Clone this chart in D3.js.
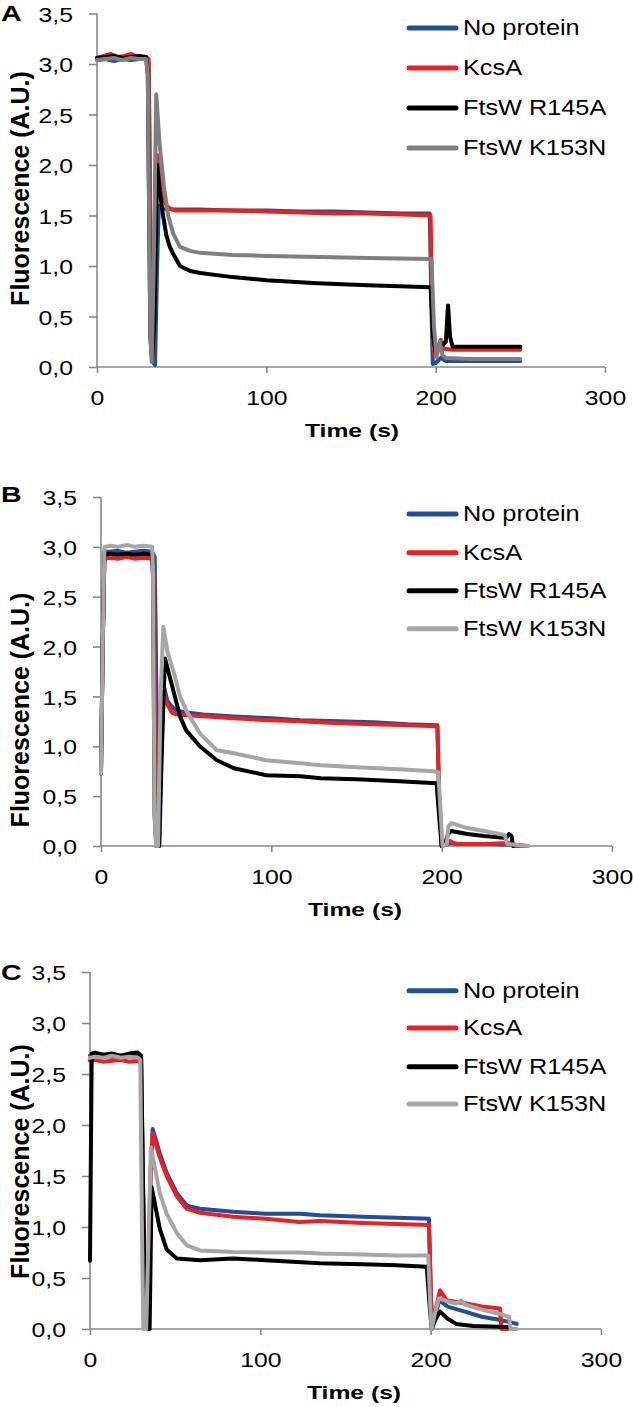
<!DOCTYPE html>
<html>
<head>
<meta charset="utf-8">
<script src="https://cdn.jsdelivr.net/npm/d3@7"></script>
<style>
  html, body { margin: 0; padding: 0; background: #fff; }
  svg { display: block; }
  text { font-family: "Liberation Sans", Arial, sans-serif; fill: #000; }
</style>
</head>
<body>
<svg id="chart" width="633" height="1407"></svg>
<script>
// ---------------- DATA ----------------
const seriesNames = ["No protein", "KcsA", "FtsW R145A", "FtsW K153N"];
const panelLetters = ["A", "B", "C"];
const xTicks = [0, 100, 200, 300];
const xTickLabels = ["0", "100", "200", "300"];
const yTicks = [0, 0.5, 1.0, 1.5, 2.0, 2.5, 3.0, 3.5];
const yTickLabels = ["0,0", "0,5", "1,0", "1,5", "2,0", "2,5", "3,0", "3,5"];
const xTitle = "Time (s)";
const yTitle = "Fluorescence (A.U.)";

// Panel A  [time (s), fluorescence]
const aNoProtein = [[0,3.04],[5,3.05],[10,3.03],[15,3.05],[20,3.04],[25,3.05],[29,3.05],[30.5,3.0],[32,0.5],[33,0.05],[34.3,0.02],[35.5,1.0],[36.5,1.6],[38,1.57],[45,1.56],[60,1.56],[80,1.55],[100,1.55],[120,1.54],[140,1.54],[160,1.53],[180,1.52],[196.5,1.52],[197.5,0.6],[198.3,0.03],[200,0.04],[203,0.09],[206,0.06],[215,0.06],[230,0.06],[250,0.06]];
const aKcsA = [[0,3.06],[4,3.08],[8,3.1],[12,3.07],[16,3.08],[20,3.1],[24,3.07],[29,3.07],[30.5,3.05],[32,0.3],[33,0.1],[34.5,1.2],[35.5,2.1],[37,1.85],[39,1.68],[41,1.6],[43,1.57],[46,1.55],[60,1.55],[80,1.55],[100,1.54],[120,1.53],[140,1.52],[160,1.52],[180,1.51],[197,1.50],[198,0.5],[199,0.12],[201,0.15],[203,0.27],[205,0.18],[210,0.17],[230,0.17],[250,0.17]];
const aR145A = [[0,3.06],[5,3.07],[10,3.08],[15,3.06],[20,3.07],[25,3.08],[29,3.07],[30,2.9],[31.5,0.3],[32.5,0.08],[34,0.5],[35.5,2.0],[37,1.75],[39,1.5],[41,1.3],[43,1.19],[45,1.12],[49,1.0],[55,0.95],[61,0.93],[80,0.89],[100,0.86],[130,0.83],[160,0.81],[197,0.79],[198.5,0.3],[200,0.15],[203,0.2],[206,0.25],[207.3,0.61],[208.5,0.3],[210,0.2],[230,0.2],[250,0.2]];
const aK153N = [[0,3.04],[5,3.05],[10,3.06],[15,3.04],[20,3.06],[25,3.05],[29,3.05],[30,2.9],[31.5,0.3],[32.3,0.05],[33.5,1.0],[35,2.7],[37,2.2],[39.5,1.79],[42,1.5],[45,1.32],[49,1.19],[55,1.15],[61,1.13],[80,1.11],[100,1.10],[132,1.09],[160,1.08],[197.5,1.07],[199,0.4],[200.5,0.1],[202.5,0.25],[204,0.12],[206,0.09],[220,0.08],[250,0.08]];

// Panel B
const bNoProtein = [[0,0.75],[1,2.0],[2,2.95],[5,2.95],[10,2.96],[15,2.94],[20,2.95],[25,2.96],[30,2.95],[31.5,2.9],[33,1.0],[34.3,0.0],[35.5,0.8],[37,1.6],[39,1.45],[41.5,1.4],[44,1.36],[50,1.34],[60,1.32],[78,1.30],[100,1.28],[117,1.26],[140,1.25],[160,1.24],[180,1.22],[197.5,1.21],[198.5,0.5],[200,0.0],[205,0.03],[210,0.02],[230,0.02],[245,0.01],[250,0.0]];
const bKcsA = [[0,0.75],[1,2.0],[2,2.88],[5,2.89],[10,2.88],[15,2.9],[20,2.88],[25,2.89],[30,2.88],[31,2.7],[32.5,0.0],[34,0.5],[36,1.6],[38,1.45],[41.5,1.34],[44,1.32],[50,1.31],[60,1.3],[78,1.28],[100,1.26],[117,1.25],[140,1.23],[160,1.22],[180,1.21],[197.5,1.2],[198.5,0.5],[200,0.0],[203,0.02],[205,0.05],[208,0.02],[225,0.02],[240,0.03],[242,0.0],[250,0.0]];
const bR145A = [[0,0.73],[1,2.0],[2,2.92],[5,2.93],[10,2.92],[15,2.93],[20,2.92],[25,2.93],[30,2.92],[30.5,2.7],[31.5,0.3],[32.5,0.0],[34,0.0],[36,1.2],[37.6,1.88],[40,1.72],[42.9,1.53],[46.4,1.30],[50,1.16],[58,1.0],[68,0.86],[78,0.78],[97,0.71],[117,0.70],[129,0.68],[150,0.67],[175,0.65],[197,0.63],[198.5,0.3],[200,0.0],[202,0.02],[203.7,0.12],[205.7,0.15],[215,0.12],[225,0.1],[238,0.08],[239.5,0.12],[241,0.1],[242,0.0]];
const bK153N = [[0,0.73],[1,2.0],[2,3.0],[5,3.01],[10,3.0],[15,3.02],[20,3.0],[25,3.01],[30,3.0],[30.5,2.8],[31.5,0.3],[32.3,0.0],[33.5,0.0],[35,1.5],[36.6,2.2],[39,1.95],[42.9,1.73],[46.4,1.50],[50,1.36],[58,1.13],[68,0.96],[78,0.93],[97,0.86],[117,0.83],[129,0.81],[150,0.79],[175,0.77],[195,0.75],[198,0.74],[199.5,0.3],[200.5,0.0],[203,0.02],[204,0.2],[205.7,0.23],[215,0.18],[225,0.15],[237,0.11],[238.5,0.02],[245,0.01],[251,0.0]];

// Panel C
const cNoProtein = [[0,2.68],[3,2.69],[8,2.68],[13,2.67],[18,2.68],[23,2.67],[28,2.68],[30,2.65],[31.5,1.0],[32.5,0.0],[34,0.0],[35.5,1.5],[36.8,1.96],[41,1.72],[45,1.53],[51,1.33],[56.8,1.21],[64.6,1.18],[84,1.15],[103,1.13],[123,1.13],[135,1.115],[160,1.1],[180,1.09],[199,1.08],[200.2,0.3],[201,0.02],[203,0.15],[205,0.28],[210,0.22],[220,0.17],[230,0.12],[240,0.09],[246,0.07],[250.5,0.05]];
const cKcsA = [[0,2.63],[3,2.64],[8,2.62],[13,2.63],[18,2.64],[23,2.62],[28,2.63],[30,2.6],[31.5,1.0],[32.5,0.0],[34,0.0],[35.5,1.5],[36.8,1.92],[41,1.68],[45,1.5],[51,1.30],[56.8,1.18],[64.6,1.14],[84,1.10],[103,1.08],[123,1.05],[135,1.06],[160,1.04],[180,1.03],[199,1.02],[200.2,0.3],[201,0.02],[203,0.2],[205.5,0.38],[209.4,0.28],[221,0.25],[230,0.22],[240.7,0.2],[241.6,0.0],[245.5,0.0]];
const cR145A = [[0,0.67],[1,2.7],[3,2.71],[8,2.69],[13,2.70],[18,2.68],[23,2.70],[28,2.71],[30,2.68],[31.5,1.0],[32.5,0.0],[35,0.0],[36.2,1.39],[41,0.98],[45,0.78],[51,0.69],[64.6,0.675],[84,0.69],[103,0.675],[135,0.645],[160,0.635],[180,0.625],[197.7,0.61],[199.5,0.2],[200.6,0.0],[203,0.1],[205.5,0.17],[210,0.1],[215,0.05],[225,0.03],[245,0.02]];
const cK153N = [[0,2.66],[3,2.67],[8,2.66],[13,2.68],[18,2.66],[23,2.67],[28,2.66],[29.5,2.64],[30.5,1.0],[31.3,0.0],[33,0.0],[34.5,1.0],[35.8,1.78],[41,1.33],[45,1.13],[51,0.94],[56.8,0.82],[64.6,0.77],[84,0.756],[103,0.75],[123,0.75],[135,0.74],[160,0.73],[180,0.72],[198.6,0.72],[199.8,0.2],[200.6,0.0],[202.5,0.15],[204.8,0.30],[210,0.27],[215,0.25],[218,0.28],[220,0.24],[230,0.19],[240,0.15],[246,0.12],[247,0.0],[250.5,0.0]];

// ---------------- LAYOUT / STYLE ----------------
const panelSeries = [
  [aNoProtein, aKcsA, aR145A, aK153N],
  [bNoProtein, bKcsA, bR145A, bK153N],
  [cNoProtein, cKcsA, cR145A, cK153N]
];
const panels = [
  { x0: 97,  x1: 605, yB: 367,  yT: 13.5, letterY: 21,  yTitleY: 188.5,  xTitleX: 352, legendY: [28, 68, 108, 148], gray: "#7f7f7f" },
  { x0: 101, x1: 612, yB: 846,  yT: 497,  letterY: 502, yTitleY: 710,    xTitleX: 355, legendY: [514, 552.7, 590.7, 628.7], gray: "#a6a6a6" },
  { x0: 90,  x1: 601, yB: 1329, yT: 972,  letterY: 980, yTitleY: 1161.5, xTitleX: 354, legendY: [990.7, 1028, 1066.7, 1104], gray: "#a6a6a6" }
];
const baseColors = ["#1f4e9c", "#f21d1d", "#000000"];
const axisColor = "#898989";

const svg = d3.select("#chart");

panels.forEach((p, pi) => {
  const colors = baseColors.concat([p.gray]);
  const x = d3.scaleLinear().domain([0, 300]).range([p.x0, p.x1]);
  const y = d3.scaleLinear().domain([0, 3.5]).range([p.yB, p.yT]);
  const g = svg.append("g");

  // axes
  const yAxis = d3.axisLeft(y).tickValues(yTicks).tickSize(8)
    .tickFormat((d, i) => yTickLabels[i]);
  const gy = g.append("g").attr("transform", `translate(${p.x0},0)`).call(yAxis);
  gy.select(".domain").attr("stroke", axisColor).attr("stroke-width", 1.6);
  gy.selectAll(".tick line").attr("stroke", axisColor).attr("stroke-width", 1.6);
  gy.selectAll(".tick text")
    .attr("x", null).attr("dy", "0.36em")
    .attr("transform", "translate(-24,0) scale(1.18,1)")
    .style("font-size", "21px").attr("text-anchor", "end");

  const xAxis = d3.axisBottom(x).tickValues(xTicks).tickSize(6)
    .tickFormat((d, i) => xTickLabels[i]);
  const gx = g.append("g").attr("transform", `translate(0,${p.yB})`).call(xAxis);
  gx.select(".domain").attr("stroke", axisColor).attr("stroke-width", 1.6);
  gx.selectAll(".tick line").attr("stroke", axisColor).attr("stroke-width", 1.6);
  gx.selectAll(".tick text")
    .attr("y", 38).attr("dy", null)
    .attr("transform", "scale(1.18,1)")
    .style("font-size", "21px");
  g.selectAll(".domain").attr("fill", "none");
  gy.select(".domain").attr("d", `M0,${p.yB}V${p.yT}`);
  gx.select(".domain").attr("d", `M${p.x0},0H${p.x1}`);

  // lines
  const line = d3.line().x(d => x(d[0])).y(d => y(d[1]));
  panelSeries[pi].forEach((s, si) => {
    g.append("path").datum(s)
      .attr("d", line)
      .attr("fill", "none")
      .attr("stroke", colors[si])
      .attr("stroke-width", 4)
      .attr("stroke-linejoin", "round")
      .attr("stroke-linecap", "round");
  });

  // panel letter
  g.append("text").attr("transform", `translate(1,${p.letterY}) scale(1.3,1)`)
    .style("font-size", "22px").style("font-weight", "bold").text(panelLetters[pi]);

  // y title
  g.append("text")
    .attr("transform", `translate(20,${p.yTitleY}) rotate(-90)`)
    .attr("text-anchor", "middle").attr("dominant-baseline", "central")
    .style("font-size", "25px").style("font-weight", "bold").text(yTitle);

  // x title
  g.append("text")
    .attr("transform", `translate(${p.xTitleX},${p.yB + 70}) scale(1.3,1)`)
    .attr("text-anchor", "middle")
    .style("font-size", "19px").style("font-weight", "bold").text(xTitle);

  // legend
  seriesNames.forEach((name, si) => {
    const ly = p.legendY[si];
    g.append("line").attr("x1", 409).attr("x2", 456).attr("y1", ly).attr("y2", ly)
      .attr("stroke", colors[si]).attr("stroke-width", 5).attr("stroke-linecap", "round");
    g.append("text").attr("transform", `translate(463,${ly}) scale(1.15,1)`)
      .attr("dominant-baseline", "central")
      .style("font-size", "22px").text(name);
  });
});
</script>
</body>
</html>
